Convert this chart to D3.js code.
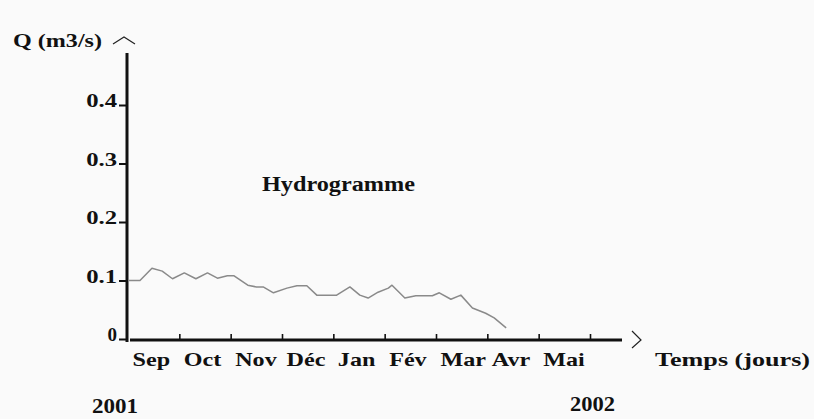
<!DOCTYPE html>
<html>
<head>
<meta charset="utf-8">
<script src="https://cdn.jsdelivr.net/npm/d3@7"></script>
<style>
  html, body { margin: 0; padding: 0; background: #fafafa; }
  svg { display: block; }
  text { font-family: "Liberation Serif", "Times New Roman", serif; font-weight: bold; fill: #111; }
</style>
</head>
<body>
<svg id="chart" width="814" height="419"></svg>
<script>
// Month labels (Sep 2001 .. Mai 2002)
const months = ["Sep", "Oct", "Nov", "Déc", "Jan", "Fév", "Mar", "Avr", "Mai"];
// Discharge axis ticks (m3/s)
const yTicks = [0, 0.1, 0.2, 0.3, 0.4];
// Measurement dates
const dates = [
  "2001-09-01", "2001-09-08", "2001-09-15", "2001-09-21", "2001-09-27",
  "2001-10-04", "2001-10-11", "2001-10-18", "2001-10-24", "2001-10-30",
  "2001-11-03", "2001-11-11", "2001-11-16", "2001-11-20", "2001-11-26",
  "2001-12-04", "2001-12-10", "2001-12-16", "2001-12-22", "2002-01-03",
  "2002-01-11", "2002-01-17", "2002-01-22", "2002-01-28", "2002-02-03",
  "2002-02-05", "2002-02-12", "2002-02-18", "2002-02-27", "2002-03-03",
  "2002-03-10", "2002-03-16", "2002-03-23", "2002-03-31", "2002-04-05",
  "2002-04-12"
];
// Discharge Q (m3/s)
const flows = [
  0.100, 0.100, 0.121, 0.116, 0.103,
  0.113, 0.103, 0.113, 0.104, 0.108,
  0.108, 0.092, 0.089, 0.089, 0.079,
  0.087, 0.091, 0.091, 0.075, 0.075,
  0.089, 0.075, 0.070, 0.080, 0.087,
  0.092, 0.070, 0.074, 0.074, 0.079,
  0.068, 0.075, 0.053, 0.044, 0.036,
  0.019
];

const parse = d3.timeParse("%Y-%m-%d");
const series = dates.map((d, i) => ({ date: parse(d), q: flows[i] }));

const svg = d3.select("#chart");
svg.append("rect").attr("width", 814).attr("height", 419).attr("fill", "#fafafa");

// Layout
const x0 = 128, xEnd = 590, axisY = 340;
const monthStarts = d3.timeMonth.range(new Date(2001, 8, 1), new Date(2002, 6, 1)); // Sep 1 .. Jun 1
const step = (xEnd - x0) / (monthStarts.length - 1);

// Each month gets the same width along the time axis
const x = d3.scaleTime()
  .domain(monthStarts)
  .range(monthStarts.map((d, i) => x0 + i * step));

const y = d3.scaleLinear().domain([0, 0.4]).range([339, 105]);

// Stretch text horizontally by a factor
function stretch(sel, k) {
  sel.each(function () {
    const len = this.getComputedTextLength();
    d3.select(this).attr("textLength", len * k).attr("lengthAdjust", "spacingAndGlyphs");
  });
}

// Y axis line and arrow
svg.append("line")
  .attr("x1", 127).attr("x2", 127).attr("y1", 53).attr("y2", 342)
  .attr("stroke", "#111").attr("stroke-width", 3);
svg.append("path")
  .attr("d", "M113,44 L124,37 L135,44")
  .attr("fill", "none").attr("stroke", "#222").attr("stroke-width", 1.2);

// Y ticks via axis generator
const yAxis = d3.axisLeft(y)
  .tickValues(yTicks)
  .tickSize(7)
  .tickPadding(2)
  .tickFormat(d => d === 0 ? "0" : d3.format(".1f")(d));
const gy = svg.append("g").attr("transform", "translate(126,0)").call(yAxis);
gy.select(".domain").remove();
gy.selectAll(".tick line").attr("stroke", "#111").attr("stroke-width", 2);
gy.selectAll(".tick text")
  .attr("dy", "0.08em")
  .style("font-size", "19px")
  .style("font-family", "Liberation Serif, serif")
  .style("font-weight", "bold")
  .attr("fill", "#111");
gy.selectAll(".tick text").filter(d => d !== 0).call(stretch, 1.3);

// X axis line, ticks and arrow
svg.append("line")
  .attr("x1", 130).attr("x2", 622).attr("y1", axisY).attr("y2", axisY)
  .attr("stroke", "#111").attr("stroke-width", 3);
const xAxis = d3.axisBottom(x)
  .tickValues(monthStarts.slice(1))
  .tickSize(-5)
  .tickSizeOuter(0)
  .tickFormat("");
const gx = svg.append("g").attr("transform", `translate(0,${axisY - 1})`).call(xAxis);
gx.select(".domain").remove();
gx.selectAll(".tick line").attr("stroke", "#111").attr("stroke-width", 1.6);
svg.append("path")
  .attr("d", "M632,331 L641,340 L632,348")
  .attr("fill", "none").attr("stroke", "#222").attr("stroke-width", 1.2);

// Month labels, left-aligned within each month
svg.append("g").selectAll("text")
  .data(months)
  .join("text")
  .attr("x", (d, i) => x(monthStarts[i]) + 4.5)
  .attr("y", 366)
  .style("font-size", "19px")
  .text(d => d)
  .call(stretch, 1.27);

// Hydrograph line
const line = d3.line().x(d => x(d.date)).y(d => y(d.q));
svg.append("path")
  .datum(series)
  .attr("d", line)
  .attr("fill", "none")
  .attr("stroke", "#8a8a8a")
  .attr("stroke-width", 1.5)
  .attr("stroke-linejoin", "round");

// Titles and labels
function label(txt, lx, ly, size, width) {
  svg.append("text")
    .attr("x", lx).attr("y", ly)
    .style("font-size", size + "px")
    .attr("textLength", width)
    .attr("lengthAdjust", "spacingAndGlyphs")
    .text(txt);
}
label("Q (m3/s)", 13, 47, 19, 89);
label("Hydrogramme", 262, 191, 20, 153);
label("Temps (jours)", 655, 366, 19, 155);
label("2001", 92, 413, 21, 46);
label("2002", 570, 411, 20, 45);
</script>
</body>
</html>
